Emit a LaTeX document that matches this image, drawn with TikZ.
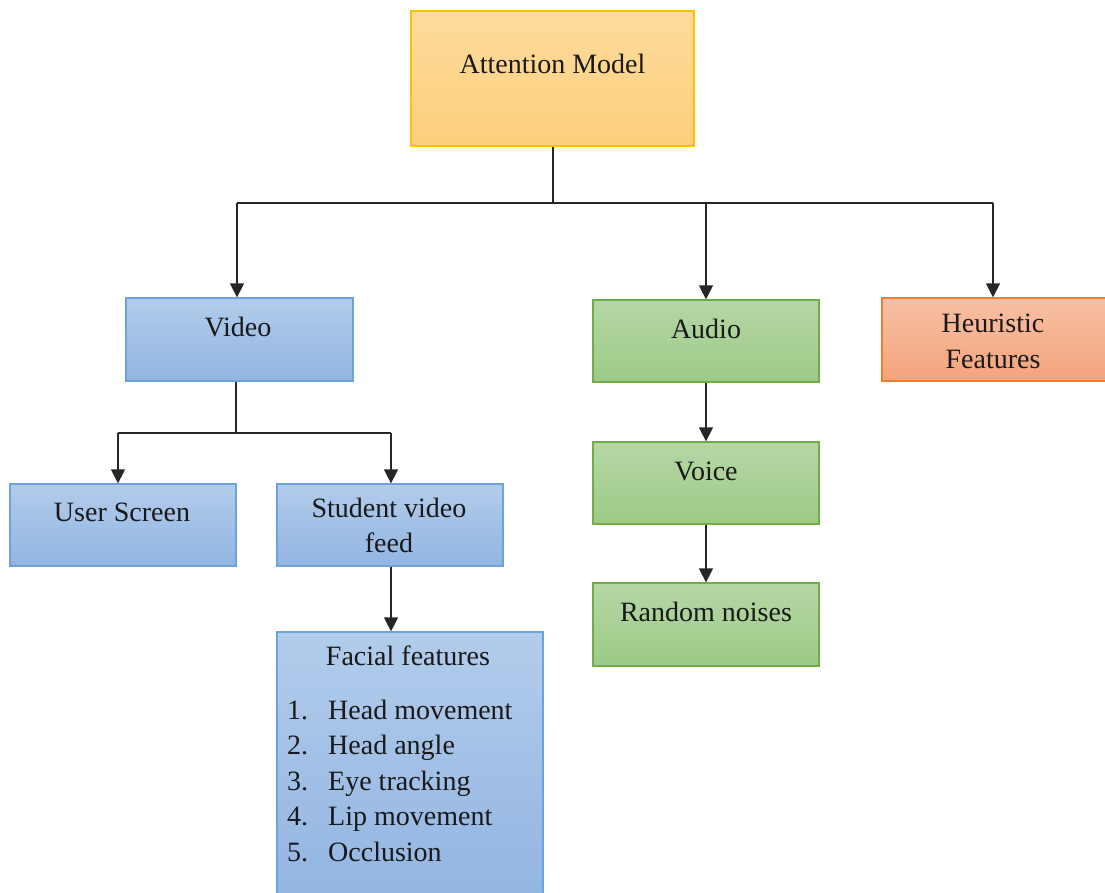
\documentclass[tikz,border=0pt]{standalone}
\usepackage{fontspec}
\setmainfont{Liberation Serif}
\usetikzlibrary{arrows.meta}
\definecolor{yTop}{HTML}{FDDB9C}
\definecolor{yBot}{HTML}{FDCF7C}
\definecolor{yLine}{HTML}{FFC000}
\definecolor{bTop}{HTML}{B2CCEB}
\definecolor{bBot}{HTML}{92B5E2}
\definecolor{bLine}{HTML}{6FA1DC}
\definecolor{gTop}{HTML}{B5D7A6}
\definecolor{gBot}{HTML}{9DCA86}
\definecolor{gLine}{HTML}{70AD47}
\definecolor{oTop}{HTML}{F8C0A4}
\definecolor{oBot}{HTML}{F4A47C}
\definecolor{oLine}{HTML}{ED7D31}
\definecolor{conn}{HTML}{262626}
\tikzset{
  boxbase/.style={rectangle, inner sep=0pt, line width=1.3pt},
  ybox/.style={boxbase, draw=yLine, top color=yTop, bottom color=yBot},
  bbox/.style={boxbase, draw=bLine, top color=bTop, bottom color=bBot},
  gbox/.style={boxbase, draw=gLine, top color=gTop, bottom color=gBot},
  obox/.style={boxbase, draw=oLine, top color=oTop, bottom color=oBot},
  lbl/.style={anchor=base, inner sep=0pt, text=black!90, font=\fontsize{28pt}{35pt}\selectfont},
  lbll/.style={lbl, anchor=base west},
  wire/.style={draw=conn, line width=1.5pt},
  arr/.style={wire, -{Triangle[width=14pt,length=14pt]}}
}
\begin{document}
\begin{tikzpicture}[x=1pt,y=-1pt]
\useasboundingbox (0,0) rectangle (1105,893);
\fill[white] (0,0) rectangle (1105,893);

% boxes
\node[ybox, minimum width=283pt, minimum height=135pt] (att) at (552.5,78.5) {};
\node[bbox, minimum width=227pt, minimum height=83pt] (video) at (239.5,339.5) {};
\node[gbox, minimum width=226pt, minimum height=82pt] (audio) at (706,341) {};
\node[obox, minimum width=224pt, minimum height=83pt] (heur) at (994,339.5) {};
\node[bbox, minimum width=226pt, minimum height=82pt] (user) at (123,525) {};
\node[bbox, minimum width=226pt, minimum height=82pt] (student) at (390,525) {};
\node[gbox, minimum width=226pt, minimum height=82pt] (voice) at (706,483) {};
\node[gbox, minimum width=226pt, minimum height=83pt] (random) at (706,624.5) {};
\node[bbox, minimum width=266pt, minimum height=265pt] (facial) at (410,764.5) {};

% labels
\node[lbl] (tatt) at (552.5,74) {Attention Model};
\node[lbl] (tvideo) at (238,336) {Video};
\node[lbl] (taudio) at (706,338) {Audio};
\node[lbl] (theur1) at (993,332) {Heuristic};
\node[lbl] (theur2) at (993,368) {Features};
\node[lbl] (tuser) at (122,521) {User Screen};
\node[lbl] (tstud1) at (389,517) {Student video};
\node[lbl] (tstud2) at (389,552) {feed};
\node[lbl] (tvoice) at (706,480) {Voice};
\node[lbl] (trandom) at (706,621) {Random noises};
\node[lbl] (tfacial) at (408,665) {Facial features};
\node[lbll] (n1) at (287,719) {1.};
\node[lbll] (i1) at (328,719) {Head movement};
\node[lbll] (n2) at (287,754.5) {2.};
\node[lbll] (i2) at (328,754.5) {Head angle};
\node[lbll] (n3) at (287,790) {3.};
\node[lbll] (i3) at (328,790) {Eye tracking};
\node[lbll] (n4) at (287,825.5) {4.};
\node[lbll] (i4) at (328,825.5) {Lip movement};
\node[lbll] (n5) at (287,861) {5.};
\node[lbll] (i5) at (328,861) {Occlusion};

% connectors
\coordinate (jm) at (553,203);
\coordinate (jl) at (237,203);
\coordinate (ja) at (706,203);
\coordinate (jr) at (993,203);
\draw[wire] (att.south -| jm) -- (jm);
\draw[wire] (jl) -- (jr);
\draw[arr] (jl) -- (jl |- video.north);
\draw[arr] (ja) -- (ja |- audio.north);
\draw[arr] (jr) -- (jr |- heur.north);

\coordinate (vm) at (236,433);
\coordinate (vl) at (118,433);
\coordinate (vr) at (391,433);
\draw[wire] (vm |- video.south) -- (vm);
\draw[wire] (vl) -- (vr);
\draw[arr] (vl) -- (vl |- user.north);
\draw[arr] (vr) -- (vr |- student.north);

\draw[arr] (student.south -| vr) -- (facial.north -| vr);
\draw[arr] (audio.south) -- (voice.north);
\draw[arr] (voice.south) -- (random.north);
\end{tikzpicture}
\end{document}
